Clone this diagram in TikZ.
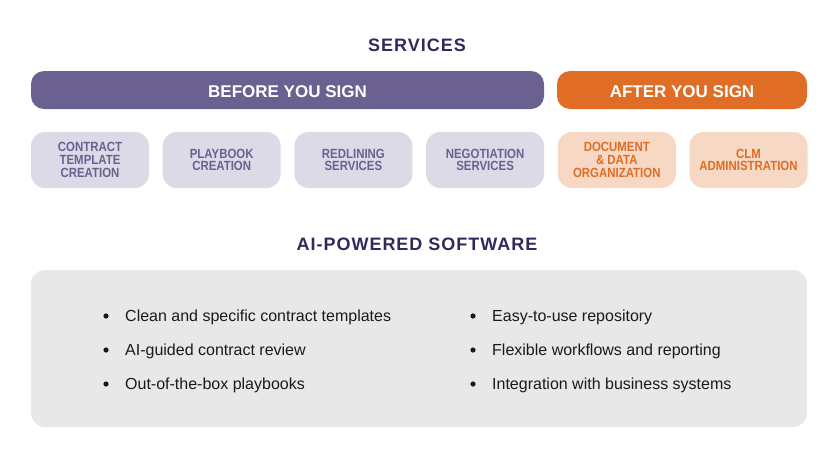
\documentclass[tikz,border=0pt]{standalone}
\usepackage{fontspec}
\setmainfont{Liberation Sans}
\newfontfamily\boxfont{Liberation Sans}[FakeStretch=0.86]
\newfontfamily\headfont{Liberation Sans}[LetterSpace=5.5]
\usepackage{tikz}
\usetikzlibrary{positioning}
\usepackage{xcolor}
\definecolor{sPurple}{HTML}{6A6190}
\definecolor{sPurpleLight}{HTML}{DDDAE7}
\definecolor{sOrange}{HTML}{E06D25}
\definecolor{sOrangeLight}{HTML}{F7D8C4}
\definecolor{sNavy}{HTML}{302A5C}
\definecolor{sPanel}{HTML}{E8E8E8}
\definecolor{sInk}{HTML}{1A1A1A}

\begin{document}
\begin{tikzpicture}[x=1pt, y=-1pt,
  heading/.style={font=\headfont\fontsize{18}{18}\selectfont\bfseries, text=sNavy, inner sep=0pt},
  bar/.style={rounded corners=13pt, minimum height=38pt, text=white, text height=15pt, text depth=0pt,
              font=\fontsize{17}{17}\selectfont\bfseries, inner sep=0pt},
  svcbox/.style={rounded corners=14pt, minimum width=118pt, minimum height=56pt,
                 align=center, font=\boxfont\fontsize{13.3}{12.8}\selectfont\bfseries, inner sep=0pt},
  prebox/.style={svcbox, fill=sPurpleLight, text=sPurple},
  postbox/.style={svcbox, fill=sOrangeLight, text=sOrange},
  item/.style={anchor=base west, inner sep=0pt, font=\fontsize{16}{16}\selectfont, text=sInk}]
  \useasboundingbox (0,0) rectangle (835,464);
  % services
  \node[heading] (services) at (417,45) {SERVICES};
  \node[bar, fill=sPurple, minimum width=513pt] (before) at (287.5,90) {BEFORE YOU SIGN};
  \node[bar, fill=sOrange, minimum width=250pt] (after) at (682,90) {AFTER YOU SIGN};
  \node[prebox] (tmpl) at (90,160) {CONTRACT\\TEMPLATE\\CREATION};
  \node[prebox, right=13.3pt of tmpl] (play) {PLAYBOOK\\CREATION};
  \node[prebox, right=13.3pt of play] (redline) {REDLINING\\SERVICES};
  \node[prebox, right=13.3pt of redline] (nego) {NEGOTIATION\\SERVICES};
  \node[postbox, right=13.3pt of nego] (docs) {DOCUMENT\\\& DATA\\ORGANIZATION};
  \node[postbox, right=13.3pt of docs] (clm) {CLM\\ADMINISTRATION};
  % software
  \node[heading] (software) at (417,244) {AI-POWERED SOFTWARE};
  \fill[sPanel, rounded corners=14pt] (31,270) rectangle (807,427);
  \foreach \txt [count=\i] in {Clean and specific contract templates,
      AI-guided contract review, Out-of-the-box playbooks} {
    \node[item] (l\i) at (125,287+34*\i) {\txt};
    \fill[sInk] (l\i.base west) ++(-19,-5) circle (2.6);
  }
  \foreach \txt [count=\i] in {Easy-to-use repository,
      Flexible workflows and reporting, Integration with business systems} {
    \node[item] (r\i) at (492,287+34*\i) {\txt};
    \fill[sInk] (r\i.base west) ++(-19,-5) circle (2.6);
  }
\end{tikzpicture}
\end{document}
